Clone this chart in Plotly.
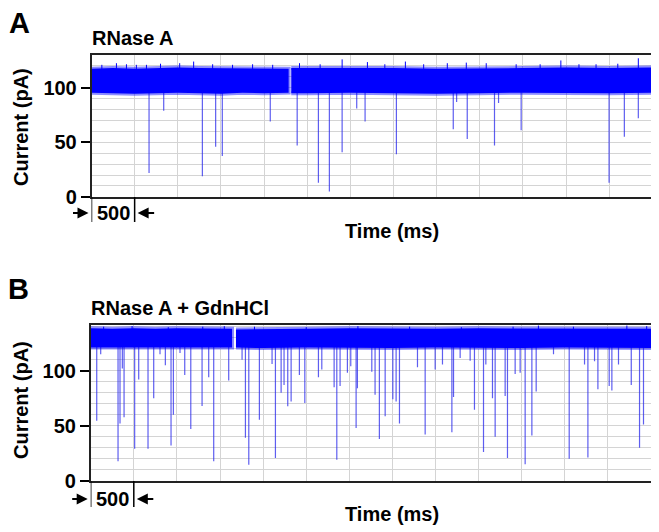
import plotly.graph_objects as go

W, H = 659, 532
BODY = 8  # default page margin around the plot div

# ---- panel A: RNase A -------------------------------------------------
a_band_t1 = [0, 250, 500, 750, 1000, 1250, 1500, 1750, 2000, 2285]
a_band_hi1 = [117.5, 118, 117.5, 118, 118.5, 118, 118, 117.5, 117.5, 117.5]
a_band_lo1 = [95.5, 95, 94.5, 95, 95.5, 95, 94.5, 95.5, 95, 95.5]
a_band_t2 = [2315, 2500, 3000, 3500, 4000, 4500, 5000, 5500, 6000, 6500]
a_band_hi2 = [118, 118, 118.5, 118, 117.5, 117.5, 118, 118.5, 118, 118.5]
a_band_lo2 = [95, 95, 95.5, 95, 94.5, 95, 95.5, 95.5, 95, 95.5]

a_spike_t = [667, 837, 1285, 1439, 1516, 2072, 2384, 2630, 2757, 2905, 3074,
             3171, 3534, 4193, 4232, 4355, 4671, 4718, 4980, 5999, 6176, 6338]
a_spike_min = [22, 79, 19, 46, 37.5, 69, 47, 13, 5, 41, 81,
               69, 39, 62, 87, 53, 47, 86, 61, 13, 55, 72]

a_peak_t = [120, 289, 405, 520, 637, 800, 1022, 1184, 1404, 1635, 1867, 2100,
            2411, 2650, 2905, 3198, 3400, 3638, 3850, 4124, 4344, 4575, 4922,
            5200, 5440, 5650, 5848, 6100, 6338]
a_peak_max = [121, 122.5, 121.5, 121, 121, 122, 122.5, 124, 121.5, 121, 121.5,
              121, 122.5, 121.5, 126, 123.5, 121.5, 124, 121.5, 122.5, 123,
              122.5, 121.5, 121.5, 125, 121.5, 121.5, 122, 127]

# ---- panel B: RNase A + GdnHCl ----------------------------------------
b_band_t1 = [0, 250, 500, 750, 1000, 1250, 1500, 1640]
b_band_hi1 = [138.5, 138, 138.5, 138, 138.5, 138, 138, 138]
b_band_lo1 = [121, 120.5, 121, 121, 120.5, 121, 121, 121]
b_band_t2 = [1685, 2000, 2500, 3000, 3500, 4000, 4500, 5000, 5500, 6000, 6500]
b_band_hi2 = [137.5, 138, 138, 138.5, 138, 138, 138.5, 138.5, 138, 138.5, 138]
b_band_lo2 = [121, 120.5, 121, 121, 120.5, 121, 121, 120.5, 121, 121, 120.5]

b_spike_t = [70, 116, 317, 340, 367, 387, 510, 557, 665, 731, 804, 866, 932, 959,
             1036, 1091, 1161, 1292, 1369, 1427, 1601, 1756, 1795, 1834, 1957,
             2104, 2143, 2209, 2243, 2286, 2325, 2421, 2484, 2642, 2681, 2824,
             2855, 2893, 2978, 3017, 3079, 3094, 3261, 3299, 3349, 3416, 3505,
             3543, 3582, 3791, 3880, 3996, 4081, 4190, 4209, 4286, 4402, 4452,
             4557, 4584, 4661, 4692, 4808, 4835, 4924, 4982, 5040, 5118, 5168,
             5369, 5551, 5729, 5768, 5845, 5884, 6015, 6046, 6123, 6271, 6367,
             6413]
b_spike_min = [54.5, 115, 17.6, 52, 102, 57.6, 29, 92, 29, 75, 115, 105, 32, 60,
               116, 96, 47, 68, 94, 17.6, 91, 110, 39, 14.5, 55.5,
               106, 20.6, 80, 87, 67.6, 72, 96, 70.6, 94, 101, 85,
               19, 86, 98, 104, 48, 84, 99, 78, 38, 58.5, 74,
               72, 52, 103, 42, 101, 105.5, 44, 76, 111.5, 109, 64.5,
               26, 105.5, 75, 40, 77, 20.6, 97, 98, 15, 41, 81,
               115, 20, 105.5, 21, 108.5, 83, 86, 82, 105.5, 87, 30,
               51]

b_peak_t = [150, 480, 900, 1300, 1550, 1900, 2500, 3100, 3700, 4300, 4900,
            5194, 5600, 6220, 6450]
b_peak_max = [140, 140.5, 139.5, 140, 140.5, 140, 139.5, 140.5, 140, 139.5,
              140, 141, 140, 141, 140.5]

scale_bar_ms = 500

BLUE = "#0000ff"
FUZZ = "rgba(0,0,255,0.45)"
SPIKE = "rgba(40,40,235,0.75)"
GRID = "#d4d4d4"
FONT = "Arial, Liberation Sans, sans-serif"

# the div sits BODY px in from the page corner
FW, FH = W - BODY, H - BODY


def px(x):
    return (x - BODY) / FW


def py(y):
    return 1 - (y - BODY) / FH


def band(t, hi, lo, xa, ya):
    return go.Scatter(
        x=t + t[::-1], y=hi + lo[::-1], xaxis=xa, yaxis=ya,
        fill="toself", fillcolor=BLUE, mode="lines",
        line=dict(color=FUZZ, width=4), hoverinfo="skip",
    )


def sticks(t, ends, start, xa, ya, color, width):
    xs, ys = [], []
    for ti, e in zip(t, ends):
        xs += [ti, ti, None]
        ys += [start, e, None]
    return go.Scatter(x=xs, y=ys, xaxis=xa, yaxis=ya, mode="lines",
                      line=dict(color=color, width=width), hoverinfo="skip")


fig = go.Figure()
fig.add_trace(sticks(a_spike_t, a_spike_min, 100, "x", "y", SPIKE, 1.2))
fig.add_trace(band(a_band_t1, a_band_hi1, a_band_lo1, "x", "y"))
fig.add_trace(band(a_band_t2, a_band_hi2, a_band_lo2, "x", "y"))
fig.add_trace(sticks(a_peak_t, a_peak_max, 115, "x", "y", BLUE, 1))

fig.add_trace(sticks(b_spike_t, b_spike_min, 126, "x2", "y2", SPIKE, 1.2))
fig.add_trace(band(b_band_t1, b_band_hi1, b_band_lo1, "x2", "y2"))
fig.add_trace(band(b_band_t2, b_band_hi2, b_band_lo2, "x2", "y2"))
fig.add_trace(sticks(b_peak_t, b_peak_max, 135, "x2", "y2", BLUE, 1))

xax = dict(range=[0, 6500], tick0=0, dtick=500, showticklabels=False, ticks="",
           showgrid=True, gridcolor=GRID, gridwidth=1, zeroline=False, automargin=False,
           showline=True, mirror=True, linecolor="#222", linewidth=1.5)
yax = dict(tickvals=[0, 50, 100], ticktext=["<b>0</b>", "<b>50</b>", "<b>100</b>"],
           ticks="outside", ticklen=9, tickwidth=1.5, tickcolor="black",
           tickfont=dict(family=FONT, size=20, color="black"), automargin=False,
           showgrid=True, gridcolor=GRID, gridwidth=1, zeroline=False,
           minor=dict(dtick=10, tick0=0, showgrid=True, gridcolor=GRID, gridwidth=1),
           showline=True, mirror=True, linecolor="#222", linewidth=1.5)

fig.update_layout(
    width=FW, height=FH, margin=dict(l=0, r=0, t=0, b=0, pad=0, autoexpand=False),
    plot_bgcolor="white", paper_bgcolor="white", showlegend=False,
    xaxis=dict(xax, domain=[px(91.5), px(652.3)], anchor="y"),
    yaxis=dict(yax, domain=[py(196.9), py(55)], range=[0, 130], anchor="x"),
    xaxis2=dict(xax, domain=[px(90.7), px(651)], anchor="y2"),
    yaxis2=dict(yax, domain=[py(480.7), py(325)], range=[0, 141.5], anchor="x2"),
)

ann = []


def text(x, y, s, size=20, xanchor="center", xref="paper", angle=0):
    ann.append(dict(x=x, y=y, xref=xref, yref="paper", text=f"<b>{s}</b>",
                    showarrow=False, xanchor=xanchor, yanchor="middle",
                    textangle=angle, font=dict(family=FONT, size=size, color="black")))


# panel A decorations
text(px(7), py(23), "A", size=29, xanchor="left")
text(px(90), py(38), "RNase A", xanchor="left")
text(px(21), py(127), "Current (pA)", angle=-90)
text(px(392), py(231), "Time (ms)")

# panel B decorations
text(px(6), py(289), "B", size=29, xanchor="left")
text(px(89), py(308), "RNase A + GdnHCl", xanchor="left")
text(px(21), py(400), "Current (pA)", angle=-90)
text(px(392), py(514), "Time (ms)")

# scale bars
for xr, y_top, y_bot, y_mid in [("x", 197, 222, 213), ("x2", 481, 507, 499)]:
    for xv in [0, scale_bar_ms]:
        fig.add_shape(type="line", xref=xr, yref="paper", x0=xv, x1=xv,
                      y0=py(y_top), y1=py(y_bot), line=dict(color="black", width=1.5))
    text(scale_bar_ms / 2, py(y_mid), str(scale_bar_ms), xref=xr)
    ann.append(dict(x=0, y=py(y_mid), xref=xr, yref="paper", ax=-20, ay=0, text="",
                    showarrow=True, arrowhead=2, arrowsize=1, arrowwidth=2.2,
                    arrowcolor="black", standoff=3))
    ann.append(dict(x=scale_bar_ms, y=py(y_mid), xref=xr, yref="paper", ax=21, ay=0,
                    text="", showarrow=True, arrowhead=2, arrowsize=1, arrowwidth=2.2,
                    arrowcolor="black", standoff=3))

fig.update_layout(annotations=ann)
fig.write_html("out.html")
